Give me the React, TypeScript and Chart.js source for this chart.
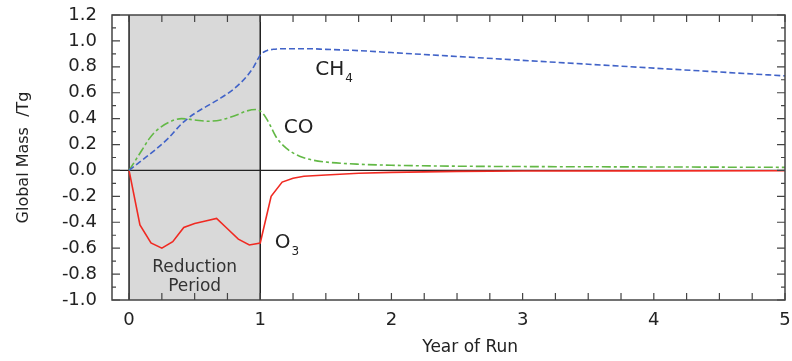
import React, { useEffect, useRef } from "react";
import { Chart, registerables } from "chart.js";

Chart.register(...registerables);

// ---- data ----
const ch4Years = [0, 0.1, 0.2, 0.3, 0.4, 0.5, 0.6, 0.7, 0.8, 0.9, 0.95, 1.0, 1.05, 1.1, 1.2, 1.35, 1.5, 1.75, 2, 2.5, 3, 3.5, 4, 4.5, 5];
const ch4Mass = [0, 0.08, 0.16, 0.25, 0.36, 0.44, 0.5, 0.56, 0.63, 0.73, 0.8, 0.89, 0.925, 0.935, 0.94, 0.94, 0.935, 0.925, 0.91, 0.88, 0.85, 0.82, 0.79, 0.76, 0.73];

const coYears = [0, 0.05, 0.1, 0.15, 0.2, 0.3, 0.4, 0.5, 0.6, 0.7, 0.8, 0.9, 0.97, 1.02, 1.07, 1.12, 1.2, 1.3, 1.4, 1.5, 1.75, 2, 2.5, 3, 4, 5];
const coMass = [0, 0.08, 0.16, 0.24, 0.3, 0.37, 0.4, 0.39, 0.38, 0.39, 0.42, 0.46, 0.47, 0.44, 0.36, 0.26, 0.17, 0.11, 0.08, 0.065, 0.048, 0.04, 0.033, 0.03, 0.027, 0.024];

const o3Years = [0, 0.083, 0.167, 0.25, 0.333, 0.417, 0.5, 0.583, 0.667, 0.75, 0.833, 0.917, 1.0, 1.083, 1.167, 1.25, 1.333, 1.5, 1.75, 2, 2.5, 3, 4, 5];
const o3Mass = [0, -0.42, -0.56, -0.6, -0.55, -0.44, -0.41, -0.39, -0.37, -0.45, -0.53, -0.575, -0.56, -0.2, -0.09, -0.06, -0.045, -0.035, -0.022, -0.015, -0.007, -0.004, -0.003, -0.002];

const xTickValues = [0, 1, 2, 3, 4, 5];
const yTickValues = [-1.0, -0.8, -0.6, -0.4, -0.2, 0.0, 0.2, 0.4, 0.6, 0.8, 1.0, 1.2];
const xRange = [-0.13, 5];
const yRange = [-1.0, 1.2];
const reductionPeriod = [0, 1];

const seriesNames = ["CH4", "CO", "O3"];
const xTitle = "Year of Run";
const yTitle = "Global Mass  /Tg";
const shadeLabel = ["Reduction", "Period"];

const FONT = "'DejaVu Sans', 'Liberation Sans', Arial, sans-serif";
const TEXT = "#222222";

const toPoints = (xs: number[], ys: number[]) => xs.map((x, i) => ({ x, y: ys[i] }));

const overlay = {
  id: "overlay",
  beforeDatasetsDraw(chart: any) {
    const { ctx, chartArea } = chart;
    const { top, bottom, left, right } = chartArea;
    const xs = chart.scales.x;
    const ys = chart.scales.y;
    const x0 = xs.getPixelForValue(reductionPeriod[0]);
    const x1 = xs.getPixelForValue(reductionPeriod[1]);
    ctx.save();
    ctx.fillStyle = "#d9d9d9";
    ctx.fillRect(x0, top, x1 - x0, bottom - top);
    ctx.strokeStyle = "#222";
    ctx.lineWidth = 1.5;
    ctx.beginPath();
    ctx.moveTo(x0, top);
    ctx.lineTo(x0, bottom);
    ctx.moveTo(x1, top);
    ctx.lineTo(x1, bottom);
    ctx.stroke();
    const y0 = ys.getPixelForValue(0);
    ctx.lineWidth = 1.2;
    ctx.beginPath();
    ctx.moveTo(left, y0);
    ctx.lineTo(right, y0);
    ctx.stroke();

    // reduction period label
    ctx.fillStyle = "#333";
    ctx.font = `17px ${FONT}`;
    ctx.textAlign = "center";
    ctx.textBaseline = "alphabetic";
    const cx = (x0 + x1) / 2;
    ctx.fillText(shadeLabel[0], cx, ys.getPixelForValue(-0.78));
    ctx.fillText(shadeLabel[1], cx, ys.getPixelForValue(-0.93));
    ctx.restore();
  },
  afterDatasetsDraw(chart: any) {
    const { ctx, chartArea } = chart;
    const { top, bottom, left, right } = chartArea;
    const xs = chart.scales.x;
    const ys = chart.scales.y;
    ctx.save();
    // minor ticks
    ctx.strokeStyle = "#444";
    ctx.lineWidth = 1.2;
    ctx.beginPath();
    for (let i = 0; i <= 20; i++) {
      const v = i * 0.25;
      const px = xs.getPixelForValue(v);
      ctx.moveTo(px, bottom);
      ctx.lineTo(px, bottom - 7);
      ctx.moveTo(px, top);
      ctx.lineTo(px, top + 7);
    }
    for (let i = -10; i <= 12; i++) {
      const v = i / 10;
      const py = ys.getPixelForValue(v);
      const len = i % 2 === 0 ? 8 : 4;
      ctx.moveTo(left, py);
      ctx.lineTo(left + len, py);
      ctx.moveTo(right, py);
      ctx.lineTo(right - len, py);
    }
    ctx.stroke();
    // frame
    ctx.strokeStyle = "#444";
    ctx.lineWidth = 1.5;
    ctx.strokeRect(left, top, right - left, bottom - top);

    // series labels
    ctx.fillStyle = TEXT;
    ctx.textAlign = "left";
    ctx.textBaseline = "alphabetic";
    const sub = (main: string, s: string, xv: number, yv: number) => {
      const px = xs.getPixelForValue(xv);
      const py = ys.getPixelForValue(yv);
      ctx.font = `20px ${FONT}`;
      ctx.fillText(main, px, py);
      const w = ctx.measureText(main).width;
      ctx.font = `12px ${FONT}`;
      ctx.fillText(s, px + w + 1, py + 7);
    };
    sub("CH", "4", 1.42, 0.735);
    ctx.font = `20px ${FONT}`;
    ctx.fillText("CO", xs.getPixelForValue(1.18), ys.getPixelForValue(0.29));
    sub("O", "3", 1.11, -0.595);

    // axis titles
    ctx.font = `17px ${FONT}`;
    ctx.textAlign = "center";
    ctx.textBaseline = "alphabetic";
    ctx.fillText(xTitle, xs.getPixelForValue(2.6), 352);
    ctx.save();
    ctx.translate(28, (top + bottom) / 2);
    ctx.rotate(-Math.PI / 2);
    ctx.font = `16px ${FONT}`;
    ctx.fillText(yTitle, 0, 0);
    ctx.restore();
    ctx.restore();
  },
};

export default function App() {
  const ref = useRef<HTMLCanvasElement | null>(null);
  useEffect(() => {
    if (!ref.current) return;
    const chart = new Chart(ref.current, {
      type: "line",
      data: {
        datasets: [
          {
            label: seriesNames[0],
            data: toPoints(ch4Years, ch4Mass),
            borderColor: "#4163c8",
            borderWidth: 1.6,
            borderDash: [6, 3],
            pointRadius: 0,
            cubicInterpolationMode: "monotone",
            fill: false,
          },
          {
            label: seriesNames[1],
            data: toPoints(coYears, coMass),
            borderColor: "#62b845",
            borderWidth: 1.6,
            borderDash: [9, 3, 3, 3],
            pointRadius: 0,
            cubicInterpolationMode: "monotone",
            fill: false,
          },
          {
            label: seriesNames[2],
            data: toPoints(o3Years, o3Mass),
            borderColor: "#f02a22",
            borderWidth: 1.6,
            pointRadius: 0,
            tension: 0,
            fill: false,
          },
        ],
      },
      options: {
        animation: false,
        responsive: true,
        maintainAspectRatio: false,
        layout: { padding: { top: 15, right: 7, left: 0, bottom: 0 } },
        plugins: { legend: { display: false }, tooltip: { enabled: false }, title: { display: false } },
        scales: {
          x: {
            type: "linear",
            min: xRange[0],
            max: xRange[1],
            grid: { display: false, drawTicks: false },
            border: { display: false },
            afterBuildTicks: (scale: any) => {
              scale.ticks = xTickValues.map((v) => ({ value: v }));
            },
            afterFit: (scale: any) => {
              scale.height = 61;
              scale.paddingLeft = 0;
              scale.paddingRight = 0;
            },
            ticks: {
              padding: 10,
              color: TEXT,
              font: { family: FONT, size: 18 },
              maxRotation: 0,
              autoSkip: false,
              callback: (v: any) => String(v),
            },
          },
          y: {
            type: "linear",
            min: yRange[0],
            max: yRange[1],
            grid: { display: false, drawTicks: false },
            border: { display: false },
            afterBuildTicks: (scale: any) => {
              scale.ticks = yTickValues.map((v) => ({ value: v }));
            },
            afterFit: (scale: any) => {
              scale.width = 112;
              scale.paddingTop = 0;
              scale.paddingBottom = 0;
            },
            ticks: {
              padding: 15,
              color: TEXT,
              font: { family: FONT, size: 18 },
              autoSkip: false,
              callback: (v: any) => (Math.abs(v) < 1e-9 ? "0.0" : Number(v).toFixed(1)),
            },
          },
        },
      },
      plugins: [overlay],
    } as any);
    return () => chart.destroy();
  }, []);
  return (
    <div style={{ position: "absolute", left: 0, top: 0, width: 792, height: 361, background: "#fff" }}>
      <canvas ref={ref} />
    </div>
  );
}
